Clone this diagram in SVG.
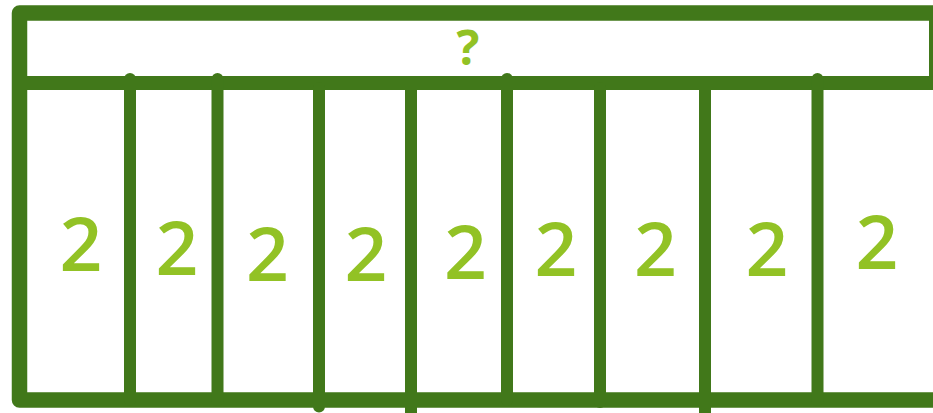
<svg xmlns="http://www.w3.org/2000/svg" width="933" height="413" viewBox="0 0 933 413">
<style>
.ln{stroke:#41781a;fill:none;}
.dv{stroke:#41781a;stroke-width:12;stroke-linecap:round;fill:none;}
.dvb{stroke:#41781a;stroke-width:12;stroke-linecap:butt;fill:none;}
.lb{fill:#92c225;font-family:"Open Sans","Noto Sans","DejaVu Sans",sans-serif;font-weight:600;text-anchor:middle;}
.two{font-size:75px;}
.q{font-size:48px;font-weight:700;}
</style>
<rect width="933" height="413" fill="#ffffff"/>
<g id="frame">
<path class="ln" d="M 950 13 H 19.5 V 400 H 950" stroke-width="15.5" stroke-linejoin="round"/>
<line class="ln" x1="12" y1="83" x2="950" y2="83" stroke-width="14"/>
<line class="ln" x1="936" y1="13" x2="936" y2="83" stroke-width="14"/>
</g>
<g id="dividers">
<line class="dv" x1="130" y1="79" x2="130" y2="400"/>
<line class="dv" x1="217.5" y1="79" x2="217.5" y2="400"/>
<line class="dv" x1="319" y1="88" x2="319" y2="406.5"/>
<line class="dvb" x1="411" y1="88" x2="411" y2="420"/>
<line class="dv" x1="507" y1="79" x2="507" y2="400"/>
<line class="dv" x1="600" y1="88" x2="600" y2="402"/>
<line class="dvb" x1="705" y1="88" x2="705" y2="420"/>
<line class="dv" x1="817.5" y1="79" x2="817.5" y2="400"/>
</g>
<g id="total"><text class="lb q" x="468" y="65">?</text></g>
<g id="cell1"><text class="lb two" x="81" y="271">2</text></g>
<g id="cell2"><text class="lb two" x="177" y="275">2</text></g>
<g id="cell3"><text class="lb two" x="267.5" y="281">2</text></g>
<g id="cell4"><text class="lb two" x="366" y="281">2</text></g>
<g id="cell5"><text class="lb two" x="465.5" y="279">2</text></g>
<g id="cell6"><text class="lb two" x="556" y="276">2</text></g>
<g id="cell7"><text class="lb two" x="655.5" y="276">2</text></g>
<g id="cell8"><text class="lb two" x="767" y="276">2</text></g>
<g id="cell9"><text class="lb two" x="877" y="269">2</text></g>
</svg>
